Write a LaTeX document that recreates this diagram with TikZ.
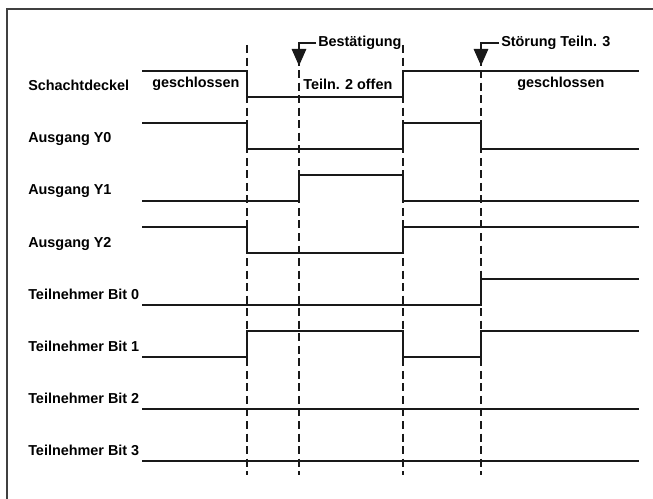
\documentclass[tikz,border=0pt]{standalone}
\usepackage{fontspec}
\setmainfont{Liberation Sans}
\usetikzlibrary{arrows.meta}

\begin{document}
\begin{tikzpicture}[
        x=0.75pt, y=-0.75pt,
        rowname/.style={anchor=base west, inner sep=0pt, font=\bfseries\fontsize{10.8}{13}\selectfont},
        levelname/.style={rowname},
        eventname/.style={rowname, anchor=west, inner sep=1.5pt},
        wave/.style={line width=2.2pt, black!90, line join=miter},
        event/.style={line width=2.2pt, black!90, -{Triangle[width=10.5pt,length=12.75pt]}},
        guide/.style={line width=1.7pt, black!90, dash pattern=on 6pt off 3.4pt},
        border/.style={line width=1.5pt, black!75}
    ]
        \useasboundingbox (0,0) rectangle (653,499);
        \draw[border] (7,499) -- (7,9) -- (653,9);

        % row names
        \node[rowname] (deckel) at (28,91) {Schachtdeckel};
        \node[rowname] (y0) at (28,143) {Ausgang Y0};
        \node[rowname] (y1) at (28,195) {Ausgang Y1};
        \node[rowname] (y2) at (28,247) {Ausgang Y2};
        \node[rowname] (bit0) at (28,299) {Teilnehmer Bit 0};
        \node[rowname] (bit1) at (28,351) {Teilnehmer Bit 1};
        \node[rowname] (bit2) at (28,403) {Teilnehmer Bit 2};
        \node[rowname] (bit3) at (28,455) {Teilnehmer Bit 3};

        % time marks
        \draw[guide] (247,45) -- (247,475);
        \draw[guide] (299,45) -- (299,475);
        \draw[guide] (403,45) -- (403,475);
        \draw[guide] (481,45) -- (481,475);

        % waveforms
        \draw[wave] (142,71) -- (247,71) -- (247,97) -- (403,97) -- (403,71) -- (639,71);
        \draw[wave] (142,123) -- (247,123) -- (247,149) -- (403,149) -- (403,123) -- (481,123) -- (481,149) -- (639,149);
        \draw[wave] (142,201) -- (299,201) -- (299,175) -- (403,175) -- (403,201) -- (639,201);
        \draw[wave] (142,227) -- (247,227) -- (247,253) -- (403,253) -- (403,227) -- (639,227);
        \draw[wave] (142,305) -- (481,305) -- (481,279) -- (639,279);
        \draw[wave] (142,357) -- (247,357) -- (247,331) -- (403,331) -- (403,357) -- (481,357) -- (481,331) -- (639,331);
        \draw[wave] (142,409) -- (639,409);
        \draw[wave] (142,461) -- (639,461);

        % states of the cover
        \node[levelname] (zu1) at (152,88) {geschlossen};
        \node[levelname] (offen) at (303,90) {Teiln. 2 offen};
        \node[levelname] (zu2) at (517,88) {geschlossen};

        % events
        \node[eventname] (best) at (316,43) {Bestätigung};
        \coordinate (bestTip) at (299,66);
        \draw[event] (best.west) -| (bestTip);

        \node[eventname] (stoer) at (499,43) {Störung Teiln. 3};
        \coordinate (stoerTip) at (481,66);
        \draw[event] (stoer.west) -| (stoerTip);
    \end{tikzpicture}
\end{document}
